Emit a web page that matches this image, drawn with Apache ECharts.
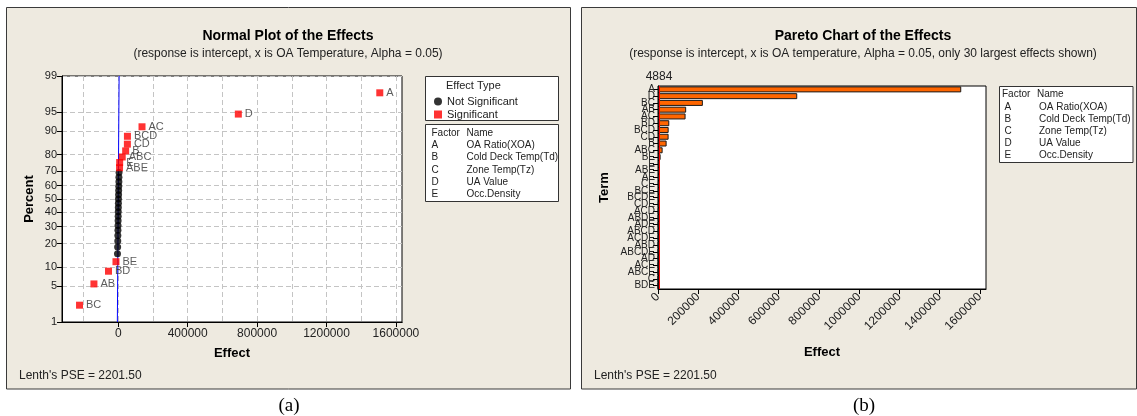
<!DOCTYPE html>
<html><head><meta charset="utf-8">
<script src="https://cdn.jsdelivr.net/npm/echarts@6/dist/echarts.min.js"></script>
<style>html,body{margin:0;padding:0;background:#fff}#c{width:1137px;height:416px}</style>
</head><body><div id="c"></div>
<script>
// ---------------- data ----------------
// effects in normal-plot rank order (smallest to largest signed effect)
const terms = ['BC','AB','BD','BE','CE','CDE','ABDE','ABCD','ABD','AD','ABCE','BDE','DE','C','ACE','ABCDE','ACDE','ADE','ACD','BCDE','BCE','AE','ABE','E','ABC','B','CD','BCD','AC','D','A'];
const effects = [-223000,-140000,-56000,-13000,-4300,-3500,-2700,-2200,-1700,-1200,-700,-300,100,500,900,1400,1900,2400,3000,3800,4000,4600,7500,8300,23000,42800,52700,53000,137000,692000,1507000];
const percents = [2.23,5.41,8.60,11.78,14.97,18.15,21.34,24.52,27.71,30.89,34.08,37.26,40.45,43.63,46.82,50.00,53.18,56.37,59.55,62.74,65.92,69.11,72.29,75.48,78.66,81.85,85.03,88.22,91.40,94.59,97.77];
const percentTicks = [1,5,10,20,30,40,50,60,70,80,90,95,99];
const effectLabelTicks = [0,400000,800000,1200000,1600000];
const effectGridTicks = [-200000,0,200000,400000,600000,800000,1000000,1200000,1400000,1600000];
const paretoTicks = [0,200000,400000,600000,800000,1000000,1200000,1400000,1600000];
const marginOfError = 4884;
const lenthPSE = 2201.5;
const factorLetters = ['A','B','C','D','E'];
const factorNames = ['OA Ratio(XOA)','Cold Deck Temp(Td)','Zone Temp(Tz)','UA Value','Occ.Density'];
const paretoShown = 30;

// ---------------- helpers ----------------
function probit(p){
  const a=[-3.969683028665376e+01,2.209460984245205e+02,-2.759285104469687e+02,1.383577518672690e+02,-3.066479806614716e+01,2.506628277459239e+00];
  const b=[-5.447609879822406e+01,1.615858368580409e+02,-1.556989798598866e+02,6.680131188771972e+01,-1.328068155288572e+01];
  const c=[-7.784894002430293e-03,-3.223964580411365e-01,-2.400758277161838e+00,-2.549732539343734e+00,4.374664141464968e+00,2.938163982698783e+00];
  const d=[7.784695709041462e-03,3.224671290700398e-01,2.445134137142996e+00,3.754408661907416e+00];
  const pl=0.02425, ph=1-pl; let q,r;
  if(p<pl){q=Math.sqrt(-2*Math.log(p));return (((((c[0]*q+c[1])*q+c[2])*q+c[3])*q+c[4])*q+c[5])/((((d[0]*q+d[1])*q+d[2])*q+d[3])*q+1);}
  if(p<=ph){q=p-0.5;r=q*q;return (((((a[0]*r+a[1])*r+a[2])*r+a[3])*r+a[4])*r+a[5])*q/(((((b[0]*r+b[1])*r+b[2])*r+b[3])*r+b[4])*r+1);}
  q=Math.sqrt(-2*Math.log(1-p));return -(((((c[0]*q+c[1])*q+c[2])*q+c[3])*q+c[4])*q+c[5])/((((d[0]*q+d[1])*q+d[2])*q+d[3])*q+1);
}
const zTicks = percentTicks.map(p=>probit(p/100));
const zMin = zTicks[0], zMax = zTicks[zTicks.length-1];

const sigPts = [], nsPts = [];
terms.forEach((t,i)=>{
  const pt = [effects[i], probit(percents[i]/100), t];
  (Math.abs(effects[i]) > marginOfError ? sigPts : nsPts).push(pt);
});
const order = terms.map((t,i)=>i).sort((a,b)=>Math.abs(effects[b])-Math.abs(effects[a])).slice(0,paretoShown);
const paretoTerms = order.map(i=>terms[i]);
const paretoValues = order.map(i=>Math.abs(effects[i]));

const FF = 'Liberation Sans';
function txt(x,y,text,size,opts){
  opts = opts||{};
  return {type:'text', z:opts.z||5, style:{x:x,y:y,text:text,
    font:(opts.bold?'bold ':'')+size+'px '+(opts.family||FF),
    fill:opts.fill||'#222', align:opts.align||'left', verticalAlign:'middle',
    textAlign:opts.align||'left', textVerticalAlign:'middle'}};
}
const graphics = [
  {type:'rect', z:-10, shape:{x:6.5,y:7.5,width:564,height:381.5}, style:{fill:'#EEEAE0',stroke:'#3a3a3a',lineWidth:1}},
  {type:'rect', z:-10, shape:{x:581.5,y:7.5,width:555,height:381.5}, style:{fill:'#EEEAE0',stroke:'#3a3a3a',lineWidth:1}},
  txt(288,36,'Normal Plot of the Effects',14,{bold:true,align:'center',fill:'#000'}),
  txt(288,54,'(response is intercept, x is OA Temperature, Alpha = 0.05)',12,{align:'center'}),
  txt(863,36,'Pareto Chart of the Effects',14,{bold:true,align:'center',fill:'#000'}),
  txt(863,54,'(response is intercept, x is OA temperature, Alpha = 0.05, only 30 largest effects shown)',12,{align:'center'}),
  txt(19,376,"Lenth's PSE = "+lenthPSE.toFixed(2),12),
  txt(594,376,"Lenth's PSE = "+lenthPSE.toFixed(2),12),
  txt(289,406,'(a)',19,{align:'center',family:'Liberation Serif',fill:'#000'}),
  txt(864,406,'(b)',19,{align:'center',family:'Liberation Serif',fill:'#000'}),
  // legend boxes
  {type:'rect', z:1, shape:{x:425.5,y:76.5,width:133,height:44}, style:{fill:'#fff',stroke:'#333',lineWidth:1}},
  txt(446,86,'Effect Type',11),
  {type:'rect', z:1, shape:{x:425.5,y:124.5,width:133,height:77}, style:{fill:'#fff',stroke:'#333',lineWidth:1}},
  txt(431.5,133.5,'Factor',10), txt(466.5,133.5,'Name',10),
  {type:'rect', z:1, shape:{x:999.5,y:86.5,width:133.5,height:76}, style:{fill:'#fff',stroke:'#333',lineWidth:1}},
  txt(1002,94.5,'Factor',10), txt(1037,94.5,'Name',10)
];
factorLetters.forEach((f,i)=>{
  graphics.push(txt(431.5,145.5+i*12.2,f,10), txt(466.5,145.5+i*12.2,factorNames[i],10));
  graphics.push(txt(1004.5,107.3+i*12,f,10), txt(1039,107.3+i*12,factorNames[i],10));
});

const plain = v => String(Math.round(v));
const axisBlack = {show:true, onZero:false, lineStyle:{color:'#000',width:1}};
const option = {
  animation:false,
  textStyle:{fontFamily:FF},
  graphic:graphics,
  legend:{
    orient:'vertical', left:429, top:91, itemWidth:8, itemHeight:8, itemGap:2,
    selectedMode:false, textStyle:{fontSize:11,color:'#222',fontFamily:FF},
    data:[{name:'Not Significant',icon:'circle'},{name:'Significant',icon:'rect'}]
  },
  grid:[
    {left:62, top:76, width:340, height:246, show:true, backgroundColor:'#fff', borderColor:'#000', borderWidth:1, outerBoundsMode:'none', containLabel:false},
    {left:658, top:86, width:328, height:203, show:true, backgroundColor:'#fff', borderColor:'#000', borderWidth:1, outerBoundsMode:'none', containLabel:false}
  ],
  xAxis:[
    {gridIndex:0, type:'value', position:'bottom', min:-324000, max:1635000,
     axisLine:axisBlack, axisTick:{show:false, customValues:effectGridTicks},
     axisLabel:{show:false},
     splitLine:{show:true, lineStyle:{color:'#c4c4c4', width:1, type:[5,3]}}},
    {gridIndex:0, type:'value', position:'bottom', min:-324000, max:1635000,
     axisLine:axisBlack,
     axisTick:{show:true, length:5, customValues:effectLabelTicks, lineStyle:{color:'#000'}},
     axisLabel:{customValues:effectLabelTicks, fontSize:12, color:'#222', margin:6, formatter:plain},
     splitLine:{show:false},
     name:'Effect', nameLocation:'middle', nameGap:25,
     nameTextStyle:{fontSize:13, fontWeight:'bold', color:'#000'}},
    {gridIndex:1, type:'value', position:'bottom', min:0, max:1630000,
     axisLine:axisBlack,
     axisTick:{show:true, length:5, customValues:paretoTicks, lineStyle:{color:'#000'}},
     axisLabel:{customValues:paretoTicks, fontSize:12, color:'#222', margin:6, rotate:45, formatter:plain,
       showMinLabel:true, showMaxLabel:true, hideOverlap:false},
     splitLine:{show:false},
     name:'Effect', nameLocation:'middle', nameGap:57,
     nameTextStyle:{fontSize:13, fontWeight:'bold', color:'#000'}}
  ],
  yAxis:[
    {gridIndex:0, type:'value', min:zMin, max:zMax,
     axisLine:axisBlack,
     axisTick:{show:true, length:5, customValues:zTicks, lineStyle:{color:'#000'}},
     axisLabel:{customValues:zTicks, fontSize:11, color:'#222', margin:5,
       formatter:function(v){let best=0;zTicks.forEach((z,i)=>{if(Math.abs(z-v)<Math.abs(zTicks[best]-v))best=i;});return String(percentTicks[best]);}},
     splitLine:{show:true, lineStyle:{color:'#c4c4c4', width:1, type:[5,3]}},
     name:'Percent', nameLocation:'middle', nameGap:26,
     nameTextStyle:{fontSize:13, fontWeight:'bold', color:'#000'}},
    {gridIndex:1, type:'category', data:paretoTerms, inverse:true,
     axisLine:axisBlack,
     axisTick:{show:true, length:5, alignWithLabel:true, interval:0, lineStyle:{color:'#000'}},
     axisLabel:{interval:0, fontSize:10, color:'#222', margin:3},
     splitLine:{show:false},
     name:'Term', nameLocation:'middle', nameGap:47,
     nameTextStyle:{fontSize:13, fontWeight:'bold', color:'#000'}}
  ],
  series:[
    {name:'fit', type:'line', xAxisIndex:0, yAxisIndex:0, silent:true, showSymbol:false, z:1,
     data:[[lenthPSE*zMin, zMin],[lenthPSE*zMax, zMax]],
     lineStyle:{color:'#0000ff', width:1}},
    {name:'Not Significant', type:'scatter', xAxisIndex:0, yAxisIndex:0, symbol:'circle', symbolSize:7,
     itemStyle:{color:'#000'}, data:nsPts, z:3},
    {name:'Significant', type:'scatter', xAxisIndex:0, yAxisIndex:0, symbol:'rect', symbolSize:7,
     itemStyle:{color:'#ff0000'}, data:sigPts, z:4,
     label:{show:true, position:'right', distance:3, fontSize:11, color:'#333', formatter:p=>p.data[2]}},
    {name:'ref', type:'scatter', xAxisIndex:2, yAxisIndex:1, data:[], z:1, silent:true,
     markLine:{silent:true, symbol:['none','none'], animation:false,
       data:[{xAxis:marginOfError}],
       lineStyle:{color:'#ff0000', width:1, type:'solid'},
       label:{show:true, position:'start', formatter:String(marginOfError), fontSize:12, color:'#222', distance:3}}},
    {name:'effects', type:'bar', xAxisIndex:2, yAxisIndex:1, data:paretoValues, barWidth:6, z:3,
     itemStyle:{color:'#FF6600', borderColor:'#1a1a1a', borderWidth:1}}
  ]
};
const chart = echarts.init(document.getElementById('c'), null, {renderer:'canvas'});
chart.setOption(option);
</script></body></html>
